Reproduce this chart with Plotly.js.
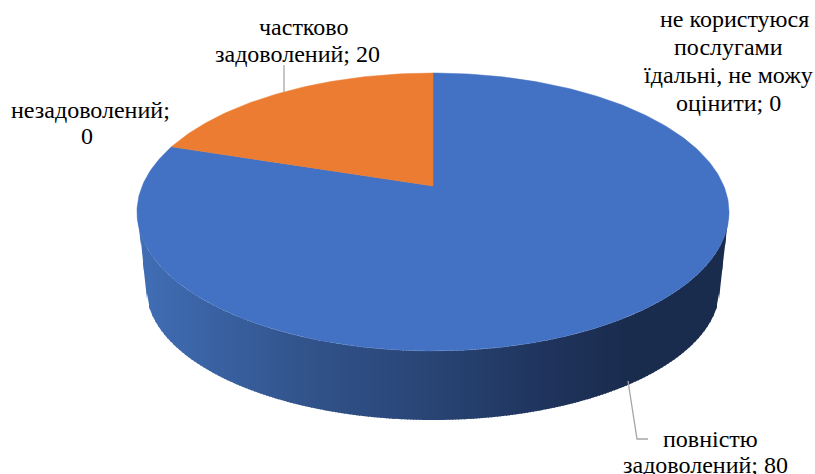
<!DOCTYPE html>
<html>
<head>
<meta charset="utf-8">
<script src="https://cdn.plot.ly/plotly-3.0.1.min.js"></script>
<style>html,body{margin:0;padding:0;background:#fff}#chart{width:815px;height:474px}</style>
</head>
<body>
<div id="chart"></div>
<script>
// Data
var categories = ['повністю<br>задоволений', 'частково<br>задоволений', 'незадоволений', 'не користуюся<br>послугами<br>їдальні, не можу<br>оцінити'];
var values = [80, 20, 0, 0];
var separators = ['; ', '; ', ';<br>', '; '];
var sliceColors = ['#4371C3', '#EB7C31', '#A5A5A5', '#FFC000'];

// Label positions (plot coordinates, centre of the text block) and leader lines
var labelX = [705, 297, 90, 728];
var labelY = [452, 40, 123, 61];
var lineSteps = [26, 27, 26.5, 27.7];
var firstLineShift = [5.5, 6, 0, 6];
var lastLineShift = [0, 0, -3, 0];
var leaderX = [[628, 637, 648], [284, 284], [], []];
var leaderY = [[381, 439, 439], [65, 92], [], []];

// Projection of the pie disc
var centerX = 433, centerY = 186, radiusX = 290.8, radiusY = 134.1, tilt = 0.187;
function rim(t) {
  var w = 1 + tilt * Math.cos(t);
  return [centerX + radiusX * Math.sin(t) / w, centerY - radiusY * Math.cos(t) / w];
}

var traces = [];

// Side wall of the first slice, shaded left to right in vertical strips
var wallStops = [[137, [64, 110, 182]], [300, [50, 84, 140]], [433, [40, 68, 116]], [560, [30, 50, 90]], [625, [26, 44, 78]], [729, [26, 44, 78]]];
function wallColor(x) {
  for (var i = 1; i < wallStops.length; i++) {
    if (x <= wallStops[i][0]) {
      var a = wallStops[i - 1], b = wallStops[i], f = (x - a[0]) / (b[0] - a[0]);
      return 'rgb(' + a[1].map(function (c, j) { return Math.round(c + (b[1][j] - c) * f); }).join(',') + ')';
    }
  }
  return 'rgb(26,44,78)';
}
function wallTop(x) {
  var u = (x - 433) / 296;
  return 212 + 139 * Math.sqrt(Math.max(0, 1 - u * u));
}
function wallBottom(x) {
  var d = Math.abs(x - 433);
  if (d <= 287) return 288 + 132 * Math.sqrt(1 - (d / 287) * (d / 287));
  return 212 + 76 * (296 - Math.min(d, 296)) / 9;
}
var step = 3;
for (var sx = 137; sx < 729; sx += step) {
  var x0 = sx, x1 = Math.min(sx + step + 1, 729);
  var col = wallColor(sx + step / 2);
  traces.push({
    type: 'scatter', mode: 'lines',
    x: [x0, x1, x1, x0, x0],
    y: [wallTop(x0), wallTop(x1), wallBottom(x1), wallBottom(x0), wallTop(x0)],
    fill: 'toself', fillcolor: col, line: {width: 0},
    hoverinfo: 'skip', showlegend: false
  });
}

// Top face slices, computed from the values
var total = values.reduce(function (a, b) { return a + b; }, 0);
var acc = 0;
values.forEach(function (v, i) {
  if (v > 0) {
    var a0 = 2 * Math.PI * acc / total, a1 = 2 * Math.PI * (acc + v) / total;
    var n = Math.max(4, Math.round(v * 4));
    var xs = [centerX], ys = [centerY];
    for (var k = 0; k <= n; k++) {
      var p = rim(a0 + (a1 - a0) * k / n);
      xs.push(p[0]); ys.push(p[1]);
    }
    xs.push(centerX); ys.push(centerY);
    traces.push({
      type: 'scatter', mode: 'lines', x: xs, y: ys, fill: 'toself',
      fillcolor: sliceColors[i], line: {color: sliceColors[i], width: 0.5},
      name: categories[i].replace(/<br>/g, ' '), text: String(v), hoverinfo: 'name+text', showlegend: false
    });
  }
  acc += v;
});

// Leader lines
leaderX.forEach(function (lx, i) {
  if (lx.length) {
    traces.push({
      type: 'scatter', mode: 'lines', x: lx, y: leaderY[i],
      line: {color: '#A6A6A6', width: 1.3}, hoverinfo: 'skip', showlegend: false
    });
  }
});

// Each text line is its own annotation, to hold the tighter line spacing
var annotations = [];
categories.forEach(function (c, i) {
  var lines = (c + separators[i] + values[i]).split('<br>');
  lines.forEach(function (t, j) {
    var shift = j === 0 ? firstLineShift[i] : (j === lines.length - 1 ? lastLineShift[i] : 0);
    annotations.push({
      x: labelX[i] + shift, y: labelY[i] + (j - (lines.length - 1) / 2) * lineSteps[i],
      xref: 'x', yref: 'y', showarrow: false, text: t, align: 'center',
      xanchor: 'center', yanchor: 'middle',
      font: {family: '"Liberation Serif", "Times New Roman", serif', size: 24, color: '#000000'}
    });
  });
});

Plotly.newPlot('chart', traces, {
  width: 815, height: 474,
  margin: {l: 0, r: 0, t: 0, b: 0},
  paper_bgcolor: '#ffffff', plot_bgcolor: '#ffffff',
  xaxis: {range: [0, 815], visible: false, fixedrange: true},
  yaxis: {range: [474, 0], visible: false, fixedrange: true},
  showlegend: false,
  annotations: annotations
}, {displayModeBar: false});
</script>
</body>
</html>
